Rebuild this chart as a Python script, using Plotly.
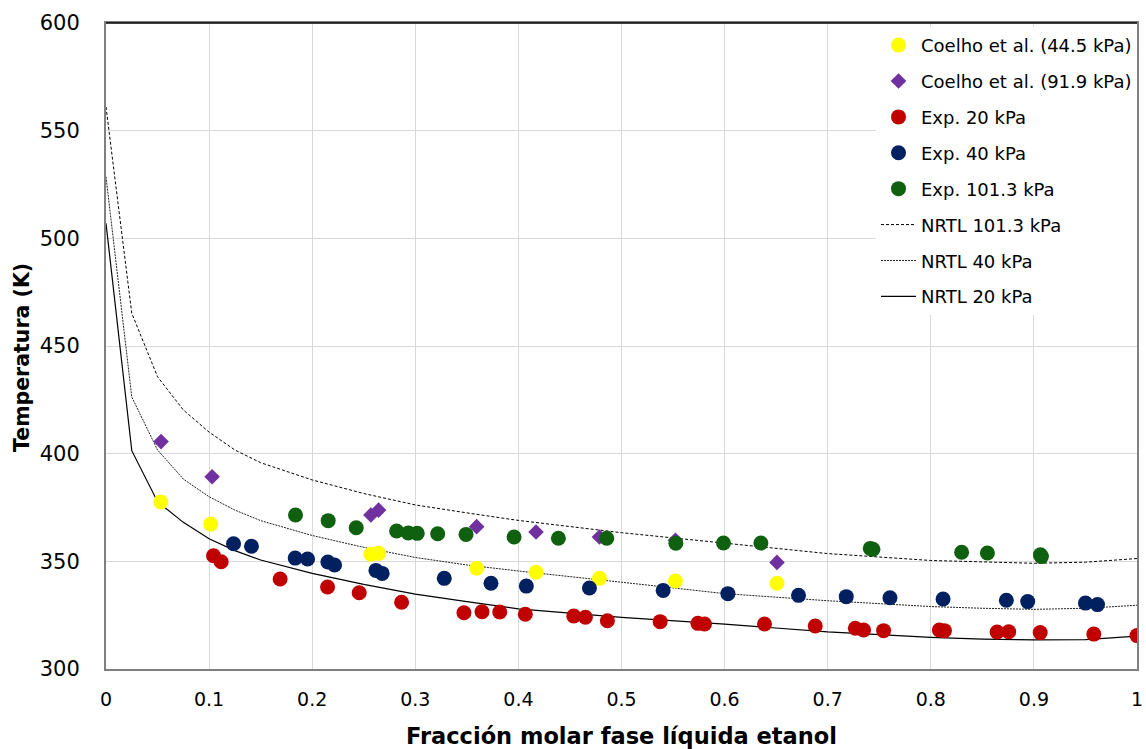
import plotly.graph_objects as go

# ---------------- data ----------------
coelho445_x = [0.0532, 0.1016, 0.2569, 0.2644, 0.3595, 0.4171, 0.4786, 0.5523, 0.6508]
coelho445_T = [377.6, 367.3, 353.3, 353.7, 346.8, 344.9, 342.1, 340.9, 339.8]

coelho919_x = [0.0534, 0.1029, 0.2569, 0.2644, 0.3595, 0.4171, 0.4786, 0.5523, 0.6508]
coelho919_T = [405.6, 389.3, 371.5, 373.8, 366.1, 363.6, 361.3, 359.8, 349.5]

exp20_x = [0.1043, 0.1117, 0.1689, 0.2149, 0.2456, 0.2867, 0.3472, 0.3647, 0.3819, 0.4067,
           0.4537, 0.4650, 0.4863, 0.5375, 0.5741, 0.5805, 0.6387, 0.6879, 0.7268, 0.7348,
           0.7542, 0.8083, 0.8132, 0.8643, 0.8756, 0.9061, 0.9581, 1.0]
exp20_T = [352.6, 349.8, 341.8, 338.1, 335.4, 331.0, 326.1, 326.6, 326.5, 325.4,
           324.6, 324.0, 322.4, 322.0, 321.2, 320.9, 320.9, 320.0, 318.9, 318.1,
           317.8, 318.1, 317.8, 317.2, 317.3, 316.9, 316.2, 315.5]

exp40_x = [0.1237, 0.1411, 0.1835, 0.1955, 0.2152, 0.2217, 0.2618, 0.2679, 0.3281, 0.3734,
           0.4077, 0.4689, 0.5404, 0.6032, 0.6717, 0.7180, 0.7604, 0.8119, 0.8733, 0.8940,
           0.9500, 0.9617]
exp40_T = [358.2, 357.0, 351.5, 351.1, 349.7, 348.3, 345.8, 344.4, 342.1, 339.8,
           338.5, 337.6, 336.5, 335.0, 334.2, 333.6, 333.1, 332.5, 331.9, 331.3,
           330.6, 329.9]

exp101_x = [0.1838, 0.2155, 0.2427, 0.2819, 0.2932, 0.3019, 0.3217, 0.3492, 0.3958, 0.4388,
            0.4857, 0.5527, 0.5989, 0.6352, 0.7413, 0.7439, 0.8299, 0.8549, 0.9063, 0.9073]
exp101_T = [371.5, 368.9, 365.6, 364.1, 363.2, 363.0, 362.8, 362.5, 361.3, 360.7,
            360.7, 358.4, 358.5, 358.5, 356.0, 355.6, 354.2, 353.9, 353.0, 352.2]

nrtl_x = [0.0, 0.025, 0.05, 0.075, 0.1, 0.125, 0.15, 0.2, 0.25, 0.3, 0.35, 0.4,
          0.5, 0.6, 0.7, 0.8, 0.85, 0.9, 0.95, 1.0]
nrtl101_T = [561.0, 465.2, 435.7, 420.3, 410.0, 401.7, 395.8, 387.8, 381.5, 376.2, 372.5, 369.0,
             363.3, 358.4, 353.6, 350.4, 349.6, 349.1, 349.6, 351.3]
nrtl40_T = [528.6, 426.3, 401.7, 388.2, 380.0, 373.8, 368.9, 362.0, 356.5, 351.8, 348.3, 345.5,
            340.3, 335.0, 331.7, 329.0, 328.2, 327.7, 328.2, 329.6]
nrtl20_T = [507.0, 401.4, 377.7, 368.1, 360.5, 355.0, 350.6, 344.4, 339.3, 334.8, 331.3, 327.9,
            324.0, 320.8, 317.2, 314.7, 313.9, 313.5, 313.6, 315.3]

x_ticks = [0, 0.1, 0.2, 0.3, 0.4, 0.5, 0.6, 0.7, 0.8, 0.9, 1]
x_ticklabels = ["0", "0.1", "0.2", "0.3", "0.4", "0.5", "0.6", "0.7", "0.8", "0.9", "1"]
y_ticks = [300, 350, 400, 450, 500, 550, 600]

# ---------------- figure ----------------
fig = go.Figure()

# lines first (drawn below markers)
fig.add_trace(go.Scatter(x=nrtl_x, y=nrtl101_T, mode="lines", name="NRTL 101.3 kPa",
                         line=dict(color="black", width=1, dash="3px,2px"), legendrank=6,
                         legendgroup="g6"))
fig.add_trace(go.Scatter(x=nrtl_x, y=nrtl40_T, mode="lines", name="NRTL 40 kPa",
                         line=dict(color="#222222", width=1, dash="2px,1px"), legendrank=7,
                         legendgroup="g7"))
fig.add_trace(go.Scatter(x=nrtl_x, y=nrtl20_T, mode="lines", name="NRTL 20 kPa",
                         line=dict(color="black", width=1.2), legendrank=8,
                         legendgroup="g8"))

fig.add_trace(go.Scatter(x=coelho445_x, y=coelho445_T, mode="markers", name="Coelho et al. (44.5 kPa)",
                         marker=dict(color="#FFFF00", size=15, symbol="circle"), legendrank=1,
                         legendgroup="g1"))
fig.add_trace(go.Scatter(x=coelho919_x, y=coelho919_T, mode="markers", name="Coelho et al. (91.9 kPa)",
                         marker=dict(color="#7030A0", size=12, symbol="diamond"), legendrank=2,
                         legendgroup="g2"))
fig.add_trace(go.Scatter(x=exp20_x, y=exp20_T, mode="markers", name="Exp. 20 kPa",
                         marker=dict(color="#C00000", size=15, symbol="circle"), legendrank=3,
                         legendgroup="g3"))
fig.add_trace(go.Scatter(x=exp40_x, y=exp40_T, mode="markers", name="Exp. 40 kPa",
                         marker=dict(color="#002060", size=15, symbol="circle"), legendrank=4,
                         legendgroup="g4"))
fig.add_trace(go.Scatter(x=exp101_x, y=exp101_T, mode="markers", name="Exp. 101.3 kPa",
                         marker=dict(color="#0F600F", size=15, symbol="circle"), legendrank=5,
                         legendgroup="g5"))

fig.update_layout(
    width=1146, height=749,
    margin=dict(l=106, r=9, t=23, b=80, autoexpand=False),
    paper_bgcolor="white", plot_bgcolor="white",
    font=dict(family="DejaVu Sans", color="black"),
    showlegend=True,
    legend=dict(x=1, xanchor="right", y=0.994, yanchor="top",
                bgcolor="white", borderwidth=0,
                font=dict(size=18, family="DejaVu Sans", color="black"),
                tracegroupgap=9.5, itemwidth=35),
    xaxis=dict(range=[0, 1], tickvals=x_ticks, ticktext=x_ticklabels,
               showgrid=True, gridcolor="#d9d9d9", gridwidth=1,
               showline=True, linecolor="#808080", linewidth=2, mirror=True,
               ticks="", zeroline=False, automargin=False, ticklabelstandoff=12,
               tickfont=dict(size=19, family="DejaVu Sans", color="black"),
               title=dict(text="<b>Fracción molar fase líquida etanol</b>",
                          font=dict(size=22.5, family="DejaVu Sans", color="black"),
                          standoff=20)),
    yaxis=dict(range=[300, 600], tickvals=y_ticks,
               showgrid=True, gridcolor="#d9d9d9", gridwidth=1,
               showline=True, linecolor="#808080", linewidth=2, mirror=True,
               ticks="", zeroline=False, automargin=False, ticklabelstandoff=20,
               tickfont=dict(size=21, family="DejaVu Sans", color="black")),
    annotations=[dict(text="<b>Temperatura (K)</b>", xref="paper", yref="paper",
                      x=0, y=0.5, xanchor="center", yanchor="middle",
                      xshift=-84, yshift=-12, textangle=-90, showarrow=False,
                      font=dict(size=20.5, family="DejaVu Sans", color="black"))],
    shapes=[dict(type="line", xref="paper", yref="paper", x0=0, x1=1, y0=1, y1=1,
                 line=dict(color="black", width=1.5))],
)

fig.write_html("out.html")
